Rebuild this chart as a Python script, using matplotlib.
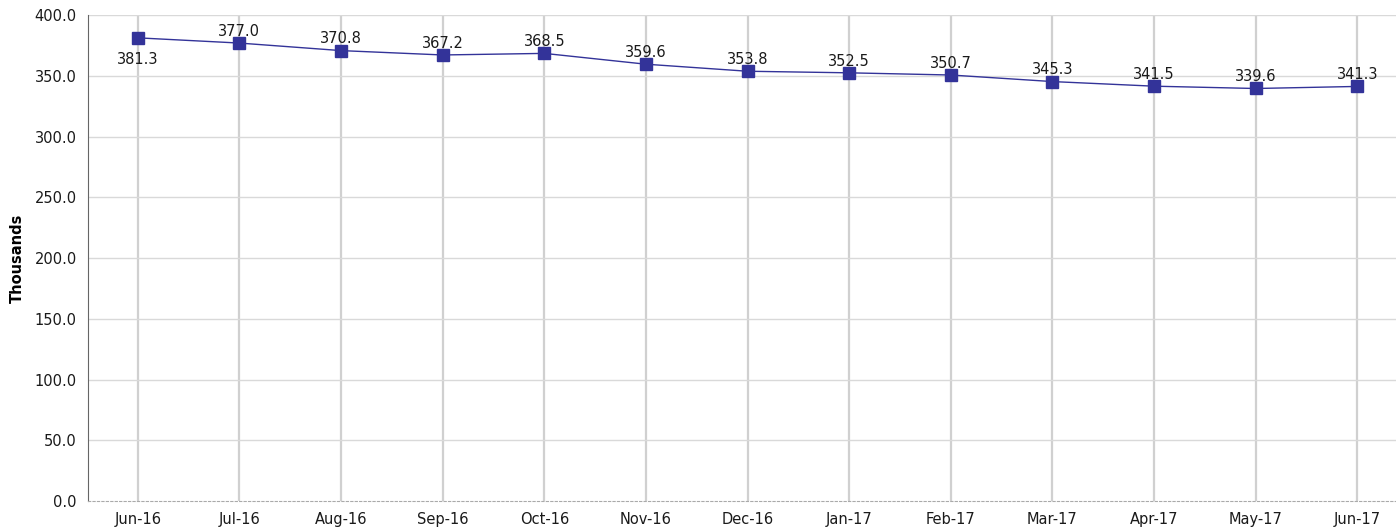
import matplotlib
matplotlib.use("Agg")
import matplotlib.pyplot as plt

months = ["Jun-16", "Jul-16", "Aug-16", "Sep-16", "Oct-16", "Nov-16", "Dec-16",
          "Jan-17", "Feb-17", "Mar-17", "Apr-17", "May-17", "Jun-17"]
values = [381.3, 377.0, 370.8, 367.2, 368.5, 359.6, 353.8,
          352.5, 350.7, 345.3, 341.5, 339.6, 341.3]
yticks = [0, 50, 100, 150, 200, 250, 300, 350, 400]

plt.rcParams["font.family"] = ["DejaVu Sans"]

fig = plt.figure(figsize=(13.96, 5.27), dpi=100, facecolor="white")
ax = fig.add_axes([0.063, 0.0493, 0.937, 0.922])

x = list(range(len(months)))
for xi in x:
    ax.axvline(xi, color="#d0d0d0", lw=1.6, zorder=0)
for yv in yticks[1:]:
    ax.axhline(yv, color="#d9d9d9", lw=1, zorder=0)

ax.plot(x, values, color="#333399", lw=1, marker="s", ms=8,
        markerfacecolor="#333399", markeredgecolor="#333399", zorder=3)

for i, v in enumerate(values):
    if i == 0:
        ax.annotate(f"{v:.1f}", (i, v), xytext=(0, -10), textcoords="offset points",
                    ha="center", va="top", fontsize=10.5, color="#1a1a1a")
    else:
        ax.annotate(f"{v:.1f}", (i, v), xytext=(0, 3), textcoords="offset points",
                    ha="center", va="bottom", fontsize=10.5, color="#1a1a1a")

ax.set_xlim(-0.49, 12.38)
ax.set_ylim(0, 400)
ax.set_xticks(x)
ax.set_xticklabels(months)
ax.set_yticks(yticks)
ax.set_yticklabels([f"{v:.1f}" for v in yticks])
ax.tick_params(axis="both", length=0, labelsize=10.5, colors="#1a1a1a")
ax.tick_params(axis="x", pad=8)
ax.tick_params(axis="y", pad=8)

for s in ("top", "right"):
    ax.spines[s].set_visible(False)
ax.spines["left"].set_color("#666666")
ax.spines["bottom"].set_color("#aaaaaa")
ax.spines["bottom"].set_linestyle((0, (2, 2)))

ax.set_ylabel("Thousands", fontsize=10.5, fontweight="bold", labelpad=7)

fig.savefig("out.png", dpi=100)
